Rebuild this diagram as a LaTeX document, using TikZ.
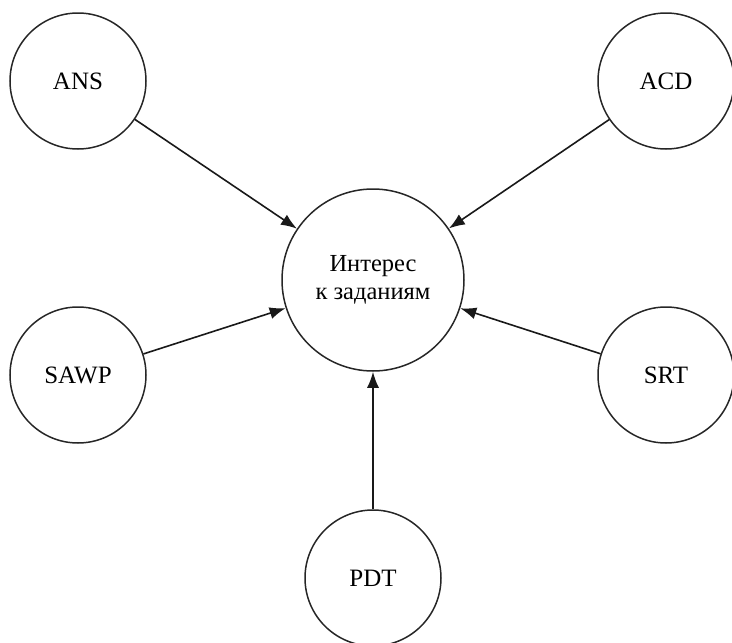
\documentclass[tikz,border=0pt]{standalone}
\usepackage{fontspec}
\setmainfont{Liberation Serif}
\usetikzlibrary{arrows.meta}
\begin{document}
\begin{tikzpicture}[x=1pt,y=-1pt,
  small/.style={circle,draw=black!85,line width=1.5pt,minimum size=136pt,inner sep=0pt,font=\fontsize{25}{28}\selectfont},
  big/.style={circle,draw=black!85,line width=1.5pt,minimum size=182pt,inner sep=0pt,align=center,font=\fontsize{24.5}{28}\selectfont},
  link/.style={draw=black!90,line width=1.6pt,-{Latex[length=16pt,width=12pt]}}]
\useasboundingbox (0,0) rectangle (732,643);
\node[big] (c) at (373,280) {Интерес\\к заданиям};
\node[small] (ans) at (78,81) {ANS};
\node[small] (acd) at (666,81) {ACD};
\node[small] (sawp) at (78,375) {SAWP};
\node[small] (srt) at (666,375) {SRT};
\node[small] (pdt) at (373,578) {PDT};
\draw[link] (ans) -- (c);
\draw[link] (acd) -- (c);
\draw[link] (sawp) -- (c);
\draw[link] (srt) -- (c);
\draw[link] (pdt) -- (c);
\end{tikzpicture}
\end{document}
